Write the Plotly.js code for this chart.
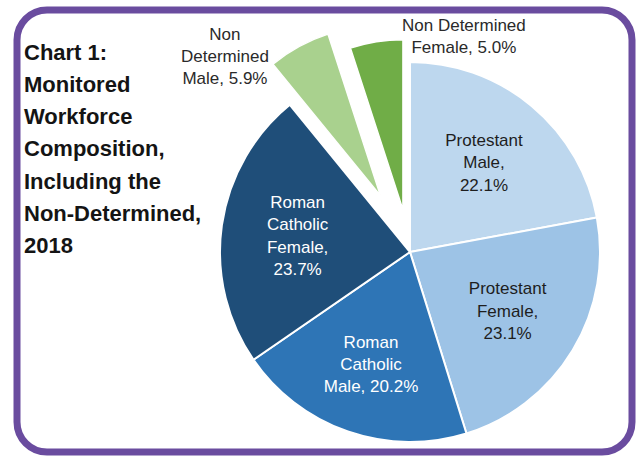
<!DOCTYPE html>
<html><head><meta charset="utf-8">
<script src="https://cdn.plot.ly/plotly-3.0.1.min.js"></script>
<style>
html,body{margin:0;padding:0;width:640px;height:456px;overflow:hidden;background:#ffffff}
#chart{width:640px;height:500px}
</style>
</head><body><div id="chart"></div>
<script>
// ---- data ----
const labels = ['Protestant Male','Protestant Female','Roman Catholic Male','Roman Catholic Female','Non Determined Male','Non Determined Female'];
const values = [22.1, 23.1, 20.2, 23.7, 5.9, 5.0];
const labelText = ['Protestant<br>Male,<br>','Protestant<br>Female,<br>','Roman<br>Catholic<br>Male, ','Roman<br>Catholic<br>Female,<br>','Non<br>Determined<br>Male, ','Non Determined<br>Female, '];
const exploded = [false, false, false, false, true, true];
const titleLines = ['Chart 1:','Monitored','Workforce','Composition,','Including the','Non-Determined,','2018'];

// ---- styles ----
const sliceColors = ['#bdd7ee','#9dc3e6','#2e75b6','#1f4e79','#a9d18e','#70ad47'];
const labelColors = ['#1e1e1e','#1e1e1e','#ffffff','#ffffff','#2a2a2a','#2a2a2a'];
const W = 640, H = 500;
const X = p => p / W, Y = p => 1 - p / H;
const clear = 'rgba(0,0,0,0)';
const labelFont = 'Liberation Sans, Arial, sans-serif';

const mainPie = {
  type: 'pie', labels: labels, values: values, sort: false, direction: 'clockwise', rotation: 0,
  domain: {x: [X(220), X(600)], y: [Y(442), Y(62)]},
  marker: {colors: sliceColors.map((c, i) => exploded[i] ? clear : c),
           line: {color: '#ffffff', width: exploded.map(e => e ? 0 : 2)}},
  text: labelText, texttemplate: '%{text}%{value:.1f}%',
  textposition: exploded.map(e => e ? 'none' : 'inside'),
  insidetextorientation: 'horizontal',
  textfont: {family: labelFont, size: 17, color: labelColors},
  hoverinfo: 'skip', showlegend: false
};

const cxB = 409, cyB = 248, halfB = 229.5;
const explodePie = {
  type: 'pie', labels: labels, values: values, sort: false, direction: 'clockwise', rotation: 0,
  domain: {x: [X(cxB - halfB), X(cxB + halfB)], y: [Y(cyB + halfB), Y(cyB - halfB)]},
  pull: [0, 0, 0, 0, 0.35, 0.228],
  marker: {colors: sliceColors.map((c, i) => exploded[i] ? c : clear),
           line: {color: '#ffffff', width: exploded.map(e => e ? 1.5 : 0)}},
  textposition: 'none', hoverinfo: 'skip', showlegend: false
};

const annotations = [];
titleLines.forEach((t, k) => {
  annotations.push({xref: 'paper', yref: 'paper', x: X(22), y: Y(52.3 + 32.2 * k),
    xanchor: 'left', yanchor: 'middle', showarrow: false, text: t,
    font: {family: 'Liberation Sans, Arial, sans-serif', size: 22, weight: 'bold', color: '#141414'}});
});
const outsidePos = {4: [225, 57], 5: [464, 37]};
Object.keys(outsidePos).forEach(k => {
  const i = +k;
  annotations.push({xref: 'paper', yref: 'paper', x: X(outsidePos[k][0]), y: Y(outsidePos[k][1]),
    xanchor: 'center', yanchor: 'middle', showarrow: false, align: 'center',
    text: labelText[i] + values[i].toFixed(1) + '%',
    font: {family: labelFont, size: 17, color: labelColors[i]}});
});

// rounded purple frame
function roundRect(x0, y0, x1, y1, r) {
  const k = 0.5523 * r;
  const P = (x, y) => X(x) + ',' + Y(y);
  return 'M' + P(x0 + r, y0) + ' L' + P(x1 - r, y0) +
    ' C' + P(x1 - r + k, y0) + ' ' + P(x1, y0 + r - k) + ' ' + P(x1, y0 + r) +
    ' L' + P(x1, y1 - r) +
    ' C' + P(x1, y1 - r + k) + ' ' + P(x1 - r + k, y1) + ' ' + P(x1 - r, y1) +
    ' L' + P(x0 + r, y1) +
    ' C' + P(x0 + r - k, y1) + ' ' + P(x0, y1 - r + k) + ' ' + P(x0, y1 - r) +
    ' L' + P(x0, y0 + r) +
    ' C' + P(x0, y0 + r - k) + ' ' + P(x0 + r - k, y0) + ' ' + P(x0 + r, y0) + ' Z';
}

const layout = {
  width: W, height: H, margin: {l: 0, r: 0, t: 0, b: 0},
  paper_bgcolor: '#ffffff', showlegend: false,
  annotations: annotations,
  shapes: [{type: 'path', xref: 'paper', yref: 'paper', path: roundRect(17, 10, 632, 452, 30),
            line: {color: '#6a4c9f', width: 7}, fillcolor: clear, layer: 'above'}]
};

Plotly.newPlot('chart', [mainPie, explodePie], layout, {displayModeBar: false, staticPlot: true});
</script>
</body></html>
